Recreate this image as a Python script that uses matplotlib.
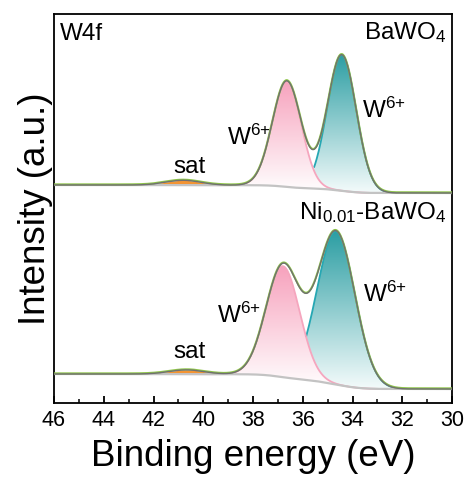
import numpy as np
import matplotlib
matplotlib.use("Agg")
import matplotlib.pyplot as plt
from matplotlib.colors import LinearSegmentedColormap

plt.rcParams['font.family'] = ['Liberation Sans', 'DejaVu Sans']
plt.rcParams['mathtext.fontset'] = 'custom'
plt.rcParams['mathtext.rm'] = 'Liberation Sans'
plt.rcParams['mathtext.it'] = 'Liberation Sans:italic'
plt.rcParams['mathtext.default'] = 'regular'

# ---- data (binding energy in eV, intensity in a.u.) ----
energy = np.arange(30.0, 46.0001, 0.02)

samples = ["BaWO$_4$", "Ni$_{0.01}$-BaWO$_4$"]
# background end levels (left = 46 eV, right = 30 eV)
bg_left = [218, 29]
bg_right = [210, 14]
# W 4f5/2 (pink) component
w52_center = [36.64, 36.80]
w52_height = [106, 111]
w52_sigma = [0.58, 0.68]
# W 4f7/2 (teal) component
w72_center = [34.43, 34.66]
w72_height = [136, 153]
w72_sigma = [0.58, 0.76]
w72_start = [35.55, 35.87]
# satellite
sat_center = [40.80, 40.66]
sat_height = [4.8, 4.2]
sat_sigma = [0.70, 0.70]

xticks = [46, 44, 42, 40, 38, 36, 34, 32, 30]


def gauss(x, c, h, s):
    return h * np.exp(-0.5 * ((x - c) / s) ** 2)


fig = plt.figure(figsize=(4.71, 4.82), dpi=100)
ax = fig.add_axes([54 / 471, 79 / 482, 398 / 471, 389 / 482])
ax.set_xlim(46, 30)
ax.set_ylim(0, 389)

pink_cmap = LinearSegmentedColormap.from_list("pk", ["#ffffff", "#f7a2bd"])
teal_cmap = LinearSegmentedColormap.from_list("tl", ["#f4fbfb", "#2c9ea3"])


def gradient_fill(x, low, high, cmap, z):
    poly = ax.fill_between(x, low, high, facecolor='none', edgecolor='none')
    ymin, ymax = low.min(), high.max()
    grad = np.linspace(0, 1, 256).reshape(-1, 1)
    im = ax.imshow(grad, extent=[x.max(), x.min(), ymin, ymax], origin='lower',
                   aspect='auto', cmap=cmap, zorder=z)
    im.set_clip_path(poly.get_paths()[0], transform=ax.transData)
    ax.set_xlim(46, 30)
    ax.set_ylim(0, 389)


for i in range(2):
    p52 = gauss(energy, w52_center[i], w52_height[i], w52_sigma[i])
    p72 = gauss(energy, w72_center[i], w72_height[i], w72_sigma[i])
    psat = gauss(energy, sat_center[i], sat_height[i], sat_sigma[i])
    total = p52 + p72 + psat
    cum = np.cumsum(total)
    bg = bg_right[i] + (bg_left[i] - bg_right[i]) * cum / cum[-1]

    # satellite fill
    ax.fill_between(energy, bg, bg + psat, where=psat > 0.3, color='#f39433', lw=0, zorder=2)
    # teal component (fill below pink)
    m = energy <= w72_start[i]
    gradient_fill(energy[m], bg[m], bg[m] + p72[m], teal_cmap, 1.8)
    ax.plot(energy[m], bg[m] + p72[m], color='#26a7b3', lw=1.3, zorder=3)
    # pink component
    gradient_fill(energy, bg, bg + p52, pink_cmap, 2)
    ax.plot(energy, bg + p52, color='#f5a6be', lw=1.3, zorder=3)
    # background
    ax.plot(energy, bg, color='#c3c3c3', lw=1.6, zorder=4)
    # envelope and data
    env = bg + total
    ax.plot(energy, env + 0.6, color='#8fc64a', lw=1.5, zorder=5)
    ax.plot(energy, env, color='#707070', lw=1.0, zorder=6)

# labels
fs = 17.5
w6 = "W$^{6{+}}$"
ax.text(45.76, 363, "W4f", fontsize=fs, ha='left', va='baseline')
ax.text(30.2, 364, samples[0], fontsize=fs, ha='right', va='baseline')
ax.text(39.05, 258, w6, fontsize=fs, ha='left', va='baseline')
ax.text(33.62, 285, w6, fontsize=fs, ha='left', va='baseline')
ax.text(41.22, 230, "sat", fontsize=fs, ha='left', va='baseline')
ax.text(30.2, 184, samples[1], fontsize=fs, ha='right', va='baseline')
ax.text(39.45, 80, w6, fontsize=fs, ha='left', va='baseline')
ax.text(33.58, 101, w6, fontsize=fs, ha='left', va='baseline')
ax.text(41.22, 45, "sat", fontsize=fs, ha='left', va='baseline')

ax.set_xticks(xticks)
ax.set_xticks(np.arange(30, 46.5, 1), minor=True)
ax.set_yticks([])
ax.tick_params(axis='x', which='major', direction='in', length=5, width=1.3,
               labelsize=15.5, pad=5)
ax.tick_params(axis='x', which='minor', direction='in', length=3, width=1.1)
for s in ax.spines.values():
    s.set_linewidth(1.3)
ax.set_xlabel("Binding energy (eV)", fontsize=26.5, labelpad=6)
ax.set_ylabel("Intensity (a.u.)", fontsize=26.5, labelpad=1)

fig.savefig("out.png", dpi=100)
